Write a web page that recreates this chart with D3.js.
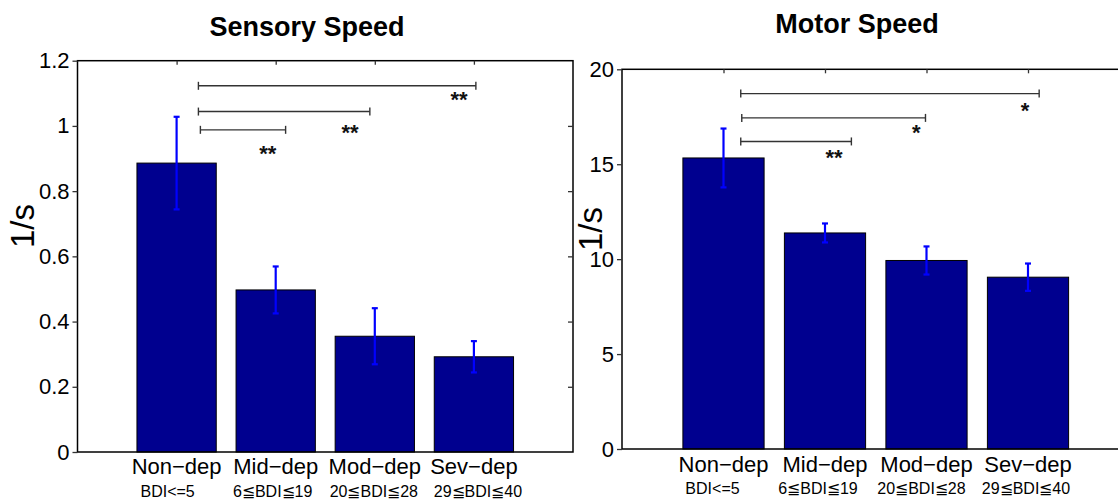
<!DOCTYPE html>
<html>
<head>
<meta charset="utf-8">
<script src="https://cdn.jsdelivr.net/npm/d3@7"></script>
<style>
  body { margin: 0; background: #fff; }
  svg { display: block; font-family: "Liberation Sans", Arial, sans-serif; }
</style>
</head>
<body>
<div id="chart"></div>
<script>
// data
const groups = ['Non\u2212dep', 'Mid\u2212dep', 'Mod\u2212dep', 'Sev\u2212dep'];
const bdiRanges = ['BDI<=5', '6\u2266BDI\u226619', '20\u2266BDI\u226628', '29\u2266BDI\u226640'];

const sensoryMean = [0.886, 0.497, 0.355, 0.292];
const sensoryErr = [0.142, 0.072, 0.086, 0.048];
const sensoryTicks = [0, 0.2, 0.4, 0.6, 0.8, 1, 1.2];
// significance brackets: [from group, to group, level, stars, star x, star y]
const sensorySig = [[1.22, 4.02, 1.123, '**', 3.85, 1.098],
                    [1.22, 2.95, 1.044, '**', 2.75, 0.997],
                    [1.24, 2.10, 0.988, '**', 1.92, 0.933]];

const motorMean = [15.33, 11.38, 9.93, 9.05];
const motorErr = [1.55, 0.5, 0.74, 0.72];
const motorTicks = [0, 5, 10, 15, 20];
const motorSig = [[1.17, 4.11, 18.72, '*', 3.97, 18.1],
                  [1.18, 2.99, 17.44, '*', 2.90, 16.95],
                  [1.17, 2.26, 16.20, '**', 2.09, 15.63]];

const W = 1118, H = 499;
const svg = d3.select('#chart').append('svg')
  .attr('width', W).attr('height', H);

function panel(opt) {
  const x = d3.scaleLinear().domain([0, 5]).range([opt.left, opt.right]);
  const y = d3.scaleLinear().domain(opt.domain).range([opt.bottom, opt.top]);
  const g = svg.append('g');
  const bw = (x(1) - x(0)) * 0.8;

  // bars
  g.selectAll('rect.bar')
    .data(opt.mean)
    .enter().append('rect')
    .attr('x', (d, i) => x(i + 1) - bw / 2)
    .attr('y', d => y(d))
    .attr('width', bw)
    .attr('height', d => y(0) - y(d))
    .attr('fill', '#00008f')
    .attr('stroke', '#000')
    .attr('stroke-width', 1);

  // error bars
  const eb = g.selectAll('g.err')
    .data(opt.mean)
    .enter().append('g')
    .attr('stroke', '#0000ff')
    .attr('stroke-width', 2.2);
  eb.append('line')
    .attr('x1', (d, i) => x(i + 1)).attr('x2', (d, i) => x(i + 1))
    .attr('y1', (d, i) => y(d - opt.err[i])).attr('y2', (d, i) => y(d + opt.err[i]));
  [-1, 1].forEach(s => {
    eb.append('line')
      .attr('x1', (d, i) => x(i + 1) - 3).attr('x2', (d, i) => x(i + 1) + 3)
      .attr('y1', (d, i) => y(d + s * opt.err[i])).attr('y2', (d, i) => y(d + s * opt.err[i]));
  });

  // box
  g.append('rect')
    .attr('x', opt.left).attr('y', opt.top)
    .attr('width', opt.right - opt.left).attr('height', opt.bottom - opt.top)
    .attr('fill', 'none').attr('stroke', '#000').attr('stroke-width', 1.5);

  // y axis: ticks outside on left, inside on right
  const ya = d3.axisLeft(y).tickValues(opt.ticks).tickSize(5).tickPadding(3)
    .tickFormat(d3.format('~g'));
  g.append('g').attr('transform', `translate(${opt.left},0)`).call(ya)
    .call(a => a.select('.domain').remove())
    .call(a => a.selectAll('text').attr('font-size', 22).attr('fill', '#000')
      .attr('font-family', '"Liberation Sans", Arial, sans-serif'))
    .call(a => a.selectAll('line').attr('stroke', '#333').attr('stroke-width', 1.3));
  g.append('g').attr('transform', `translate(${opt.right},0)`)
    .call(d3.axisLeft(y).tickValues(opt.ticks.slice(1, -1)).tickSize(5).tickFormat(''))
    .call(a => a.select('.domain').remove())
    .call(a => a.selectAll('line').attr('stroke', '#333').attr('stroke-width', 1.3));
  // top ticks inside
  g.append('g').attr('transform', `translate(0,${opt.top})`)
    .call(d3.axisTop(x).tickValues([1, 2, 3, 4]).tickSize(-4).tickFormat(''))
    .call(a => a.select('.domain').remove())
    .call(a => a.selectAll('line').attr('stroke', '#333').attr('stroke-width', 1.3));

  // category labels
  g.selectAll('text.cat')
    .data(groups)
    .enter().append('text')
    .attr('x', (d, i) => x(i + 1))
    .attr('y', opt.catY)
    .attr('text-anchor', 'middle')
    .attr('font-size', 22)
    .text(d => d);
  g.selectAll('text.bdi')
    .data(bdiRanges)
    .enter().append('text')
    .attr('x', (d, i) => x(i + 1) + opt.subShift[i])
    .attr('y', opt.subY)
    .attr('text-anchor', 'middle')
    .attr('font-size', 16)
    .text(d => d);

  // significance brackets
  const sg = g.selectAll('g.sig')
    .data(opt.sig)
    .enter().append('g')
    .attr('stroke', '#333').attr('stroke-width', 1.4);
  sg.append('line')
    .attr('x1', d => x(d[0])).attr('x2', d => x(d[1]))
    .attr('y1', d => y(d[2])).attr('y2', d => y(d[2]));
  sg.append('line')
    .attr('x1', d => x(d[0])).attr('x2', d => x(d[0]))
    .attr('y1', d => y(d[2]) - 4).attr('y2', d => y(d[2]) + 4);
  sg.append('line')
    .attr('x1', d => x(d[1])).attr('x2', d => x(d[1]))
    .attr('y1', d => y(d[2]) - 4).attr('y2', d => y(d[2]) + 4);
  g.selectAll('text.star')
    .data(opt.sig)
    .enter().append('text')
    .attr('x', d => x(d[4]))
    .attr('y', d => y(d[5]) + 13)
    .attr('text-anchor', 'middle')
    .attr('font-size', 22)
    .attr('font-weight', 'bold')
    .attr('fill', '#111')
    .text(d => d[3]);

  // titles
  svg.append('text')
    .attr('x', opt.titleX).attr('y', opt.titleY)
    .attr('text-anchor', 'middle')
    .attr('font-size', 27).attr('font-weight', 'bold')
    .text(opt.title);
  svg.append('text')
    .attr('transform', `translate(${opt.labX},${opt.labY}) rotate(-90)`)
    .attr('text-anchor', 'middle')
    .attr('font-size', 33)
    .text('1/s');
}

panel({
  mean: sensoryMean, err: sensoryErr, ticks: sensoryTicks, sig: sensorySig,
  domain: [0, 1.2], left: 77.5, right: 573, top: 60.7, bottom: 452,
  catY: 474, subY: 497, subShift: [-9, -3, -1, 4],
  title: 'Sensory Speed', titleX: 307, titleY: 36, labX: 34, labY: 226
});
panel({
  mean: motorMean, err: motorErr, ticks: motorTicks, sig: motorSig,
  domain: [0, 20], left: 622, right: 1129.5, top: 69.3, bottom: 449,
  catY: 471.5, subY: 494, subShift: [-11, -7, -5, -2],
  title: 'Motor Speed', titleX: 857, titleY: 33, labX: 602, labY: 229
});
</script>
</body>
</html>
